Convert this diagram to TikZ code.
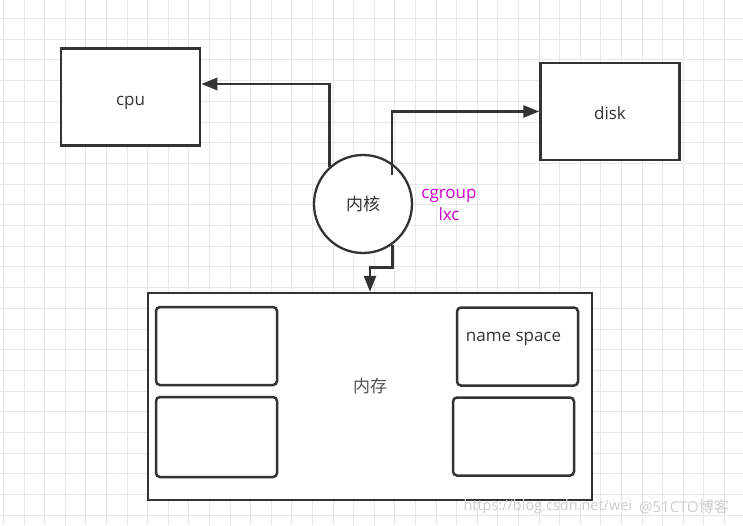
\documentclass[tikz,border=0pt]{standalone}
\usepackage{fontspec}
\setmainfont{Open Sans}
\newfontfamily\cjk{Noto Sans CJK SC}
\usepackage{xcolor}
\usetikzlibrary{arrows.meta}
\definecolor{ink}{HTML}{333333}
\definecolor{gridgray}{HTML}{E8E8E8}
\definecolor{tagpink}{HTML}{CC00CC}

\begin{document}
\begin{tikzpicture}
	[x=1pt, y=-1pt, font=\fontsize{17}{22}\selectfont,
	box/.style = {draw=ink, line width=2.5pt, fill=white, text=ink, minimum width=139pt, minimum height=97pt, text height=16pt, text depth=0pt},
	part/.style = {draw=ink, line width=2.5pt, rounded corners=4pt, fill=white, text=ink, minimum width=121pt, minimum height=78pt},
	kern/.style = {draw=ink, line width=2.3pt, circle, fill=white, text=ink, minimum size=98pt, inner sep=0pt},
	link/.style = {draw=ink, line width=2.5pt, -{Triangle[length=16pt, width=12pt]}}]
	\useasboundingbox[fill=white] (0,0) rectangle (743,525);
	\foreach \i in {0,...,35} \draw[gridgray, line width=1pt] ({3.4+20.6*\i},0) -- ++(0,525);
	\foreach \j in {1,...,25} \draw[gridgray, line width=1pt] (0,{-2.2+20.7*\j}) -- ++(743,0);
	\node[box] (cpu) at (130.5,97) {cpu};
	\node[box] (disk) at (610,111.5) {disk};
	\node[kern] (kernel) at (363,204) {\cjk 内核};
	\node[box, line width=2.3pt, minimum width=444pt, minimum height=207pt, label={[yshift=10pt, text=ink!85]center:{\cjk 内存}}] (mem) at (370,396.5) {};
	\node[part] (part1) at (216.5,346) {};
	\node[part, minimum height=80pt] (part2) at (216.5,437) {};
	\node[part, label={[anchor=center, xshift=-4pt, yshift=-33pt, text=ink]north:name space}] (part3) at (517.5,346.5) {};
	\node[part] (part4) at (513.5,436.5) {};
	\node[text=tagpink, align=center] (tag) at (449,205) {cgroup\\lxc};
	\coordinate (kin) at (392,175);
	\draw[link] (kernel.132) |- ([yshift=13pt]cpu.east);
	\draw[link] (kin) |- (disk.west);
	\draw[link] (kernel.-54) -- ++(0,23) -| (mem.north);
	% watermark
	\node[text=gray!40, font=\fontsize{14.5}{16}\selectfont, anchor=west] (mark) at (460,507) {https://blog.csdn.net/wei};
	\node[text=gray!40, font=\fontsize{15}{17}\selectfont] (mark2) at (684,507) {@51CTO{\cjk 博客}};
\end{tikzpicture}
\end{document}
